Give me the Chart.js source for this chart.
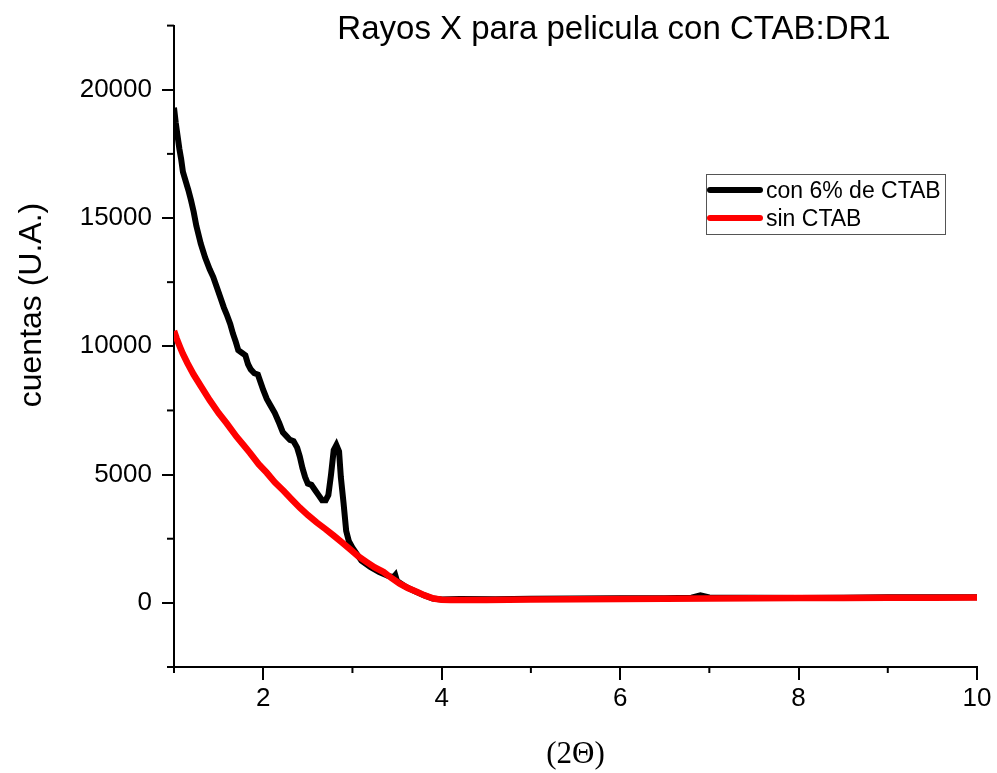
<!DOCTYPE html>
<html>
<head>
<meta charset="utf-8">
<script src="https://cdn.jsdelivr.net/npm/chart.js@4/dist/chart.umd.min.js"></script>
<style>
	body { margin: 0; background: #fff; }
	#wrap { width: 997px; height: 773px; }
</style>
</head>
<body>
<div id="wrap"><canvas id="xrd" width="997" height="773"></canvas></div>
<script>
const chartTitle = "Rayos X para pelicula con CTAB:DR1";
const xTitle = "(2\u0398)";
const yTitle = "cuentas (U.A.)";
const seriesLabels = ["con 6% de CTAB", "sin CTAB"];
const seriesColors = ["#000000", "#ff0000"];

// con 6% de CTAB
const blackX = [
	1.00, 1.02, 1.04, 1.06, 1.08, 1.10, 1.13, 1.16, 1.19, 1.22, 1.25, 1.30, 1.35, 1.40, 1.44,
	1.48, 1.52, 1.56, 1.59, 1.63, 1.66, 1.69, 1.72, 1.76, 1.80, 1.83, 1.86, 1.90, 1.94, 1.97,
	2.00, 2.04, 2.08, 2.13, 2.18, 2.22, 2.26, 2.30, 2.34, 2.38, 2.41, 2.44, 2.47, 2.50, 2.54,
	2.58, 2.62, 2.66, 2.70, 2.73, 2.76, 2.79, 2.82, 2.85, 2.87, 2.90, 2.93, 2.96, 3.00, 3.05,
	3.10, 3.20, 3.30, 3.40, 3.46, 3.48, 3.50, 3.60, 3.70, 3.80, 3.90, 4.00, 4.20, 4.60, 5.00,
	5.50, 6.00, 6.50, 6.80, 6.90, 7.00, 7.50, 8.00, 8.50, 9.00, 9.50, 10.00,
];
const blackY = [
	19300, 18700, 18200, 17700, 17300, 16800, 16450, 16100, 15700, 15250, 14700, 14000, 13450, 13000, 12700,
	12300, 11900, 11500, 11250, 10870, 10500, 10200, 9850, 9750, 9650, 9300, 9100, 8950, 8900, 8600,
	8300, 7950, 7700, 7400, 7000, 6650, 6500, 6350, 6300, 6050, 5700, 5250, 4900, 4650, 4600,
	4400, 4200, 4000, 4000, 4200, 5000, 5950, 6150, 5900, 4900, 3900, 2800, 2400, 2150, 1900,
	1650, 1400, 1200, 1050, 1000, 1080, 850, 620, 450, 300, 170, 130, 150, 145, 160,
	170, 175, 175, 200, 290, 210, 195, 190, 200, 215, 215, 220,
];

// sin CTAB
const redX = [
	1.00, 1.03, 1.07, 1.10, 1.15, 1.22, 1.30, 1.40, 1.50, 1.59, 1.70, 1.78, 1.85, 1.95, 2.04,
	2.13, 2.23, 2.32, 2.41, 2.50, 2.60, 2.70, 2.79, 2.88, 2.97, 3.06, 3.16, 3.25, 3.35, 3.44,
	3.53, 3.62, 3.72, 3.81, 3.91, 4.00, 4.10, 4.50, 5.00, 5.50, 6.00, 6.50, 7.00, 7.50, 8.00,
	8.50, 9.00, 9.50, 10.00,
];
const redY = [
	10600, 10300, 9950, 9700, 9350, 8900, 8450, 7900, 7400, 7000, 6480, 6150, 5850, 5400, 5070,
	4700, 4360, 4030, 3710, 3420, 3130, 2870, 2620, 2360, 2100, 1830, 1590, 1380, 1200, 960,
	750, 580, 430, 290, 170, 120, 110, 115, 130, 140, 150, 160, 170, 175, 185,
	190, 195, 200, 210,
];

const xMin = 1, xMax = 10, xStep = 1;
const yMin = -2500, yMax = 22500, yStep = 2500;

const sans = "'Liberation Sans', Arial, sans-serif";

const toPoints = (xs, ys) => xs.map((x, i) => ({ x: x, y: ys[i] }));

const isMajorX = (v) => v % 2 === 0;
const isMajorY = (v) => v % 5000 === 0 && v >= 0 && v <= 20000;

// short minor ticks, titles and boxed legend
const extras = {
	id: "extras",
	afterDraw(chart) {
		const ctx = chart.ctx;
		const xs = chart.scales.x;
		const ys = chart.scales.y;
		ctx.save();
		ctx.strokeStyle = "#000";
		ctx.lineWidth = 2;
		xs.ticks.forEach((t) => {
			if (isMajorX(t.value)) return;
			const px = xs.getPixelForValue(t.value);
			ctx.beginPath();
			ctx.moveTo(px, xs.top);
			ctx.lineTo(px, xs.top + 6);
			ctx.stroke();
		});
		ys.ticks.forEach((t) => {
			if (isMajorY(t.value)) return;
			const py = ys.getPixelForValue(t.value);
			ctx.beginPath();
			ctx.moveTo(ys.right, py);
			ctx.lineTo(ys.right - 7, py);
			ctx.stroke();
		});

		ctx.fillStyle = "#000";
		ctx.font = "33px " + sans;
		ctx.textAlign = "center";
		ctx.textBaseline = "alphabetic";
		ctx.fillText(chartTitle, 614, 39);

		// y title sits a bit above the middle of the axis
		ctx.save();
		ctx.translate(32, 305);
		ctx.rotate(-Math.PI / 2);
		ctx.font = "32px " + sans;
		ctx.textBaseline = "middle";
		ctx.fillText(yTitle, 0, 0);
		ctx.restore();

		ctx.strokeStyle = "#555";
		ctx.lineWidth = 1;
		ctx.strokeRect(706.5, 174.5, 239, 60);
		ctx.font = "23px " + sans;
		ctx.textAlign = "left";
		chart.data.datasets
			.slice()
			.sort((a, b) => b.order - a.order)
			.forEach((ds, i) => {
				const y = 190 + i * 28;
				ctx.strokeStyle = ds.borderColor;
				ctx.lineWidth = 6;
				ctx.lineCap = "round";
				ctx.beginPath();
				ctx.moveTo(710, y);
				ctx.lineTo(760, y);
				ctx.stroke();
				ctx.fillStyle = "#000";
				ctx.fillText(ds.label, 766, y + 8);
			});
		ctx.restore();
	},
};

new Chart(document.getElementById("xrd"), {
	type: "line",
	data: {
		datasets: [
			{
				label: seriesLabels[0],
				data: toPoints(blackX, blackY),
				borderColor: seriesColors[0],
				borderWidth: 6,
				pointRadius: 0,
				tension: 0,
				order: 1,
			},
			{
				label: seriesLabels[1],
				data: toPoints(redX, redY),
				borderColor: seriesColors[1],
				borderWidth: 6.5,
				pointRadius: 0,
				tension: 0,
				order: 0,
			},
		],
	},
	options: {
		responsive: false,
		animation: false,
		devicePixelRatio: 1,
		layout: { padding: { left: 0, right: 20, top: 19, bottom: 0 } },
		plugins: {
			legend: { display: false },
			title: { display: false },
			tooltip: { enabled: false },
		},
		scales: {
			x: {
				type: "linear",
				min: xMin,
				max: xMax,
				afterFit: (scale) => { scale.height = 106; },
				border: { display: true, color: "#000", width: 2 },
				grid: {
					drawOnChartArea: false,
					drawTicks: true,
					tickLength: 13,
					lineWidth: 2,
					color: (c) => (c.tick && isMajorX(c.tick.value) ? "#000" : "rgba(0,0,0,0)"),
				},
				ticks: {
					stepSize: xStep,
					autoSkip: false,
					maxRotation: 0,
					padding: 3,
					color: "#000",
					font: { family: sans, size: 26 },
					callback: (v) => (isMajorX(v) ? String(v) : ""),
				},
				title: {
					display: true,
					text: xTitle,
					color: "#000",
					font: { family: "'Liberation Serif', 'Times New Roman', serif", size: 31 },
					padding: { top: 0, bottom: 0 },
				},
			},
			y: {
				type: "linear",
				min: yMin,
				max: yMax,
				afterFit: (scale) => { scale.width = 174; },
				border: { display: true, color: "#000", width: 2 },
				grid: {
					drawOnChartArea: false,
					drawTicks: true,
					tickLength: 12,
					lineWidth: 2,
					color: (c) => (c.tick && isMajorY(c.tick.value) ? "#000" : "rgba(0,0,0,0)"),
				},
				ticks: {
					stepSize: yStep,
					autoSkip: false,
					padding: 10,
					color: "#000",
					font: { family: sans, size: 26 },
					callback: (v) => (isMajorY(v) ? String(v) : ""),
				},
				title: { display: false },
			},
		},
	},
	plugins: [extras],
});
</script>
</body>
</html>
